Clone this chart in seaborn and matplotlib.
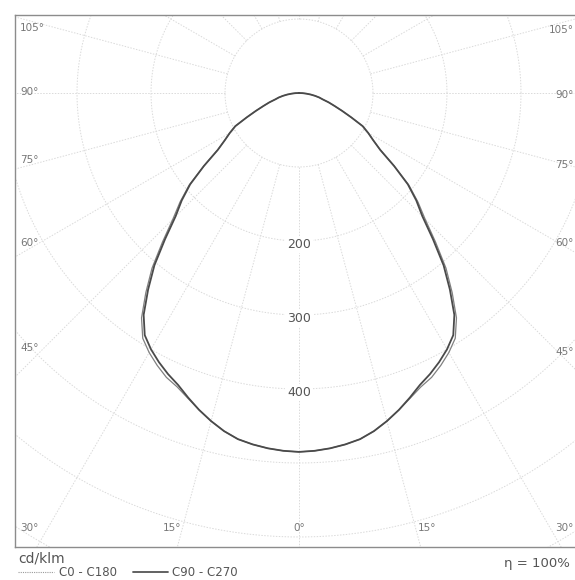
import numpy as np
import pandas as pd
import matplotlib
matplotlib.use("Agg")
import matplotlib.pyplot as plt
import seaborn as sns

sns.set_theme(style="white")
plt.rcParams['font.family'] = ['DejaVu Sans']

# Luminous intensity (cd/klm), gamma angle from nadir
gamma = [0, 2.5, 5, 7.5, 10, 12.5, 15, 17.5, 20, 22.5, 25, 27.5, 30, 32.5, 35, 37.5, 40, 42.5,
         45, 47.5, 50, 52.5, 55, 57.5, 60, 62.5, 65, 67.5, 70, 72.5, 75, 77.5, 80, 82.5, 85, 87.5, 90]
c0_c180 = [485, 484, 482, 479, 475, 468, 459, 449, 439, 430, 424, 415, 405, 393, 371, 340, 309, 273,
           241, 218, 194, 162, 134, 119, 108, 97, 78, 63, 51, 42, 33, 28, 22, 16, 10, 5, 0]
c90_c270 = [485, 484, 482, 479, 475, 468, 459, 449, 438, 427, 419, 410, 400, 388, 366, 335, 304, 268,
            236, 215, 192, 162, 134, 119, 108, 97, 78, 63, 51, 42, 33, 28, 22, 16, 10, 5, 0]

ring_values = [100, 200, 300, 400, 500, 600, 700, 800]
ring_labels = [200, 300, 400]
spoke_angles = list(range(0, 360, 15))

left_ticks = ["105°", "90°", "75°", "60°", "45°", "30°"]
left_y = [28, 92, 160, 243, 348, 528]
right_ticks = ["105°", "90°", "75°", "60°", "45°", "30°"]
right_y = [30, 95, 165, 243, 352, 528]
bottom_ticks = ["15°", "0°", "15°"]
bottom_x = [172, 299, 427]


def to_xy(angles, values, sign):
    a = np.radians(angles)
    v = np.asarray(values, dtype=float)
    return sign * v * np.sin(a), -v * np.cos(a)


rows = []
for name, vals in [("C0 - C180", c0_c180), ("C90 - C270", c90_c270)]:
    xl, yl = to_xy(gamma[::-1], vals[::-1], -1)
    xr, yr = to_xy(gamma[1:], vals[1:], 1)
    xs = np.concatenate([xl, xr])
    ys = np.concatenate([yl, yr])
    for i, (x, y) in enumerate(zip(xs, ys)):
        rows.append({"plane": name, "order": i, "x": x, "y": y})
df = pd.DataFrame(rows)

fig = plt.figure(figsize=(5.75, 5.8), dpi=100)
# axes box in pixels: left 15, right 575, top 15, bottom 547
ax = fig.add_axes([15 / 575, 33 / 580, 560 / 575, 532 / 580])
scale = 0.74  # px per cd/klm
cx, cy = 299, 93
ax.set_xlim((15 - cx) / scale, (575 - cx) / scale)
ax.set_ylim(-(547 - cy) / scale, (cy - 15) / scale)
ax.set_aspect("equal")

grid_kw = dict(color="#dadada", lw=0.7, ls=(0, (1.5, 1.5)), zorder=1)
t = np.linspace(0, 2 * np.pi, 400)
for r in ring_values:
    ax.plot(r * np.cos(t), r * np.sin(t), **grid_kw)
for a in spoke_angles:
    ar = np.radians(a)
    ax.plot([100 * np.sin(ar), 900 * np.sin(ar)], [-100 * np.cos(ar), -900 * np.cos(ar)], **grid_kw)

styles = {"C0 - C180": (0.9, "#808080"), "C90 - C270": (1.3, "#4a4a4a")}
for name, grp in df.groupby("plane"):
    lw, col = styles[name]
    sns.lineplot(data=grp, x="x", y="y", sort=False, estimator=None, ax=ax,
                 color=col, lw=lw, zorder=3)

for r in ring_labels:
    ax.text(0, -r - 5, str(r), ha="center", va="center", fontsize=9, color="#555555",
            bbox=dict(facecolor="white", edgecolor="none", pad=1.5), zorder=2)

ax.set_xticks([])
ax.set_yticks([])
ax.set_xlabel("")
ax.set_ylabel("")
for s in ["left", "top", "bottom"]:
    ax.spines[s].set_color("#8c8c8c")
    ax.spines[s].set_linewidth(1.0)
ax.spines["right"].set_visible(False)


def fx(px):
    return (px - 15) / 560


def fy(py):
    return (547 - py) / 532


lab_kw = dict(fontsize=7.5, color="#777777", transform=ax.transAxes, va="center")
for txt, py in zip(left_ticks, left_y):
    ax.text(fx(20), fy(py), txt, ha="left", **lab_kw)
for txt, py in zip(right_ticks, right_y):
    ax.text(fx(574), fy(py), txt, ha="right", **lab_kw)
for txt, px in zip(bottom_ticks, bottom_x):
    ax.text(fx(px), fy(528), txt, ha="center", **lab_kw)

fig.text(18 / 575, 1 - 558 / 580, "cd/klm", fontsize=10, color="#555555", va="center", ha="left")
fig.add_artist(plt.Line2D([18 / 575, 54 / 575], [1 - 572 / 580] * 2, color="#9a9a9a", lw=0.8,
                          ls=(0, (1, 1)), transform=fig.transFigure))
fig.text(59 / 575, 1 - 572 / 580, "C0 - C180", fontsize=8.5, color="#555555", va="center")
fig.add_artist(plt.Line2D([133 / 575, 168 / 575], [1 - 572 / 580] * 2, color="#555555", lw=1.3,
                          transform=fig.transFigure))
fig.text(172 / 575, 1 - 572 / 580, "C90 - C270", fontsize=8.5, color="#555555", va="center")
fig.text(570 / 575, 1 - 564 / 580, "η = 100%", fontsize=9.5, color="#555555", va="center", ha="right")

fig.savefig("out.png", dpi=100, facecolor="white")
